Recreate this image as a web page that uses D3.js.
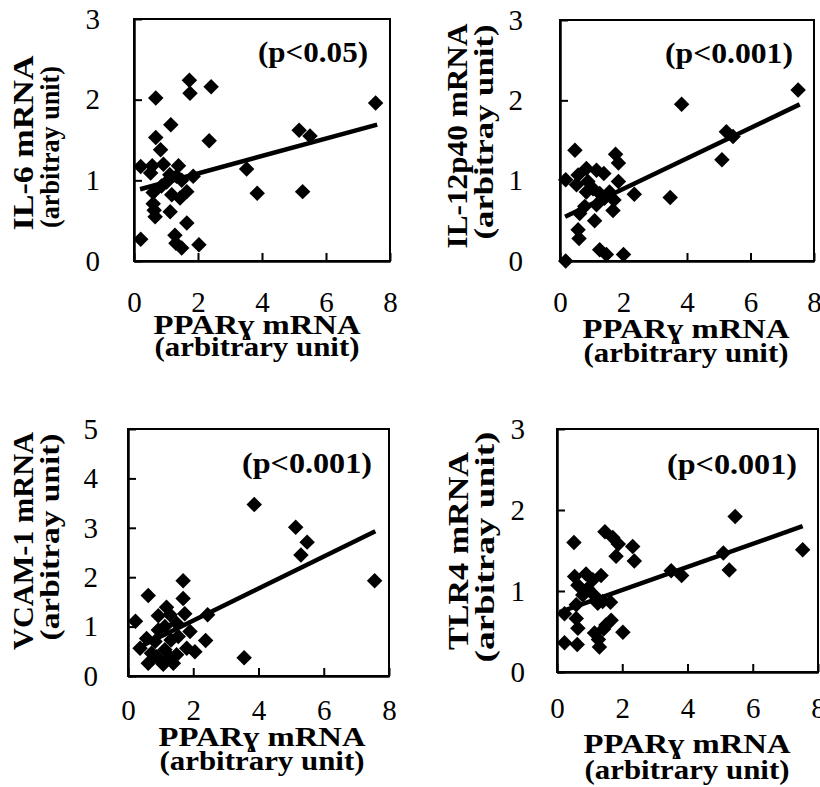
<!DOCTYPE html>
<html>
<head>
<meta charset="utf-8">
<script src="https://cdn.jsdelivr.net/npm/d3@7"></script>
<style>
body { margin: 0; background: #fff; }
svg { display: block; }
text { font-family: "Liberation Serif", "Times New Roman", serif; fill: #000; }
</style>
</head>
<body>
<svg id="chart" width="820" height="787"></svg>
<script>
// values: [PPARg, target mRNA]
var il6Points = [
    [1.73, 2.24], [1.75, 2.08], [2.41, 2.16], [0.68, 2.02], [7.55, 1.96],
    [1.15, 1.69], [0.68, 1.53], [5.16, 1.62], [5.5, 1.55], [2.35, 1.49],
    [0.83, 1.38], [0.21, 1.17], [0.57, 1.18], [0.92, 1.2], [0.52, 1.09],
    [1.39, 1.18], [3.52, 1.14], [1.12, 1.07], [1.02, 0.98], [1.33, 1.05],
    [1.49, 1.0], [1.85, 1.05], [0.86, 0.93], [1.65, 0.86], [1.18, 0.82],
    [1.44, 0.78], [0.6, 0.85], [3.85, 0.84], [5.27, 0.86], [0.6, 0.71],
    [0.63, 0.63], [0.66, 0.55], [1.13, 0.61], [1.65, 0.47], [0.21, 0.27],
    [1.28, 0.32], [1.31, 0.22], [1.49, 0.16], [2.03, 0.2]
];
var il12Points = [
    [7.5, 2.13], [3.83, 1.95], [5.24, 1.61], [5.45, 1.55], [5.1, 1.26],
    [0.47, 1.38], [1.75, 1.33], [1.84, 1.22], [0.18, 1.01], [0.57, 1.07],
    [0.83, 1.15], [1.15, 1.13], [1.38, 1.09], [1.84, 0.99], [0.52, 0.95],
    [0.88, 0.99], [1.04, 0.9], [0.83, 0.86], [1.25, 0.84], [1.56, 0.86],
    [2.34, 0.83], [3.47, 0.79], [1.7, 0.76], [1.4, 0.78], [1.15, 0.7],
    [0.78, 0.68], [1.67, 0.63], [0.62, 0.59], [1.09, 0.5], [0.57, 0.39],
    [0.6, 0.28], [1.25, 0.14], [1.46, 0.08], [2.0, 0.08], [0.18, 0.0]
];
var vcamPoints = [
    [3.87, 3.47], [5.14, 3.01], [5.49, 2.71], [5.3, 2.45], [7.56, 1.93],
    [1.69, 1.93], [0.62, 1.63], [1.69, 1.57], [0.23, 1.11], [1.18, 1.39],
    [0.93, 1.22], [1.29, 1.24], [1.74, 1.26], [2.44, 1.24], [1.13, 1.0],
    [1.49, 1.07], [1.9, 0.9], [0.93, 0.93], [0.57, 0.76], [0.83, 0.7],
    [1.32, 0.73], [1.54, 0.8], [2.38, 0.72], [1.8, 0.56], [2.05, 0.49],
    [0.37, 0.56], [0.72, 0.46], [1.13, 0.53], [1.49, 0.43], [0.62, 0.26],
    [1.08, 0.24], [1.39, 0.26], [3.56, 0.37], [0.88, 0.39], [1.29, 0.38]
];
var tlr4Points = [
    [5.46, 1.92], [7.53, 1.51], [5.1, 1.47], [5.28, 1.26], [3.5, 1.25],
    [3.82, 1.19], [0.52, 1.6], [1.47, 1.73], [1.71, 1.66], [1.88, 1.58],
    [2.32, 1.55], [1.81, 1.43], [2.37, 1.37], [0.54, 1.18], [0.89, 1.21],
    [1.35, 1.19], [1.1, 1.14], [0.64, 1.07], [0.94, 1.03], [0.79, 0.95],
    [1.13, 0.95], [1.25, 0.85], [1.64, 0.86], [1.4, 0.87], [0.59, 0.83],
    [0.23, 0.72], [0.59, 0.66], [1.66, 0.64], [1.5, 0.58], [0.64, 0.54],
    [2.02, 0.49], [1.15, 0.48], [1.43, 0.53], [0.23, 0.36], [0.62, 0.34],
    [1.3, 0.31], [1.27, 0.4]
];

// regression lines, end points
var il6Trend = [[0.19, 0.89], [7.6, 1.69]];
var il12Trend = [[0.16, 0.55], [7.55, 1.95]];
var vcamTrend = [[0.21, 0.54], [7.58, 2.93]];
var tlr4Trend = [[0.08, 0.74], [7.53, 1.8]];

var xTicks = [0, 2, 4, 6, 8];
var yTicks3 = [0, 1, 2, 3];
var yTicks5 = [0, 1, 2, 3, 4, 5];

var yTitles = ["IL-6  mRNA", "IL-12p40  mRNA", "VCAM-1  mRNA", "TLR4  mRNA"];
var yUnit = "(arbitray unit)";
var xTitle = "PPAR\u0263 mRNA";
var xUnit = "(arbitrary unit)";
var pLabels = ["(p<0.05)", "(p<0.001)", "(p<0.001)", "(p<0.001)"];

var svg = d3.select("#chart");
var serif = "'Liberation Serif', 'Times New Roman', Times, serif";

var panels = [
    {pts: il6Points, trend: il6Trend, yTicks: yTicks3, yTitle: yTitles[0], p: pLabels[0],
     left: 134, right: 390, top: 19, bottom: 261, yPad: 34, xPad: 30,
     pX: 368, pY: 62, pLen: 110,
     t1: {x: 33, y: 143, len: 175}, t2: {x: 59, y: 147, len: 162},
     xt: {x: 257, y1: 334, y2: 356}},
    {pts: il12Points, trend: il12Trend, yTicks: yTicks3, yTitle: yTitles[1], p: pLabels[1],
     left: 560, right: 814, top: 20, bottom: 261, yPad: 37, xPad: 30,
     pX: 793, pY: 63, pLen: 128,
     t1: {x: 467, y: 136, len: 225}, t2: {x: 493, y: 132, len: 215},
     xt: {x: 686, y1: 338, y2: 362}},
    {pts: vcamPoints, trend: vcamTrend, yTicks: yTicks5, yTitle: yTitles[2], p: pLabels[2],
     left: 128, right: 389, top: 429, bottom: 676, yPad: 30, xPad: 23,
     pX: 372, pY: 473, pLen: 130,
     t1: {x: 33, y: 541, len: 218}, t2: {x: 59, y: 537, len: 207},
     xt: {x: 262, y1: 746, y2: 770}},
    {pts: tlr4Points, trend: tlr4Trend, yTicks: yTicks3, yTitle: yTitles[3], p: pLabels[3],
     left: 557, right: 818, top: 429, bottom: 672, yPad: 32, xPad: 25,
     pX: 797, pY: 474, pLen: 130,
     t1: {x: 468, y: 551, len: 198}, t2: {x: 494, y: 547, len: 231},
     xt: {x: 687, y1: 753, y2: 779}}
];

panels.forEach(drawPanel);

function drawPanel(p) {
    var x = d3.scaleLinear().domain([0, 8]).range([p.left, p.right]);
    var y = d3.scaleLinear().domain([0, d3.max(p.yTicks)]).range([p.bottom, p.top]);

    var g = svg.append("g");

    // plot area border
    g.append("rect")
        .attr("x", p.left).attr("y", p.top)
        .attr("width", p.right - p.left).attr("height", p.bottom - p.top)
        .attr("fill", "none").attr("stroke", "#000").attr("stroke-width", 2);

    var xAxis = g.append("g")
        .attr("transform", "translate(0," + p.bottom + ")")
        .call(d3.axisBottom(x).tickValues(xTicks).tickFormat(d3.format("d"))
            .tickSizeInner(-8).tickSizeOuter(0).tickPadding(p.xPad));
    var yAxis = g.append("g")
        .attr("transform", "translate(" + p.left + ",0)")
        .call(d3.axisLeft(y).tickValues(p.yTicks).tickFormat(d3.format("d"))
            .tickSizeInner(-8).tickSizeOuter(0).tickPadding(p.yPad));

    [xAxis, yAxis].forEach(function (a) {
        a.attr("font-family", serif).attr("font-size", 29);
        a.select(".domain").attr("stroke", "#000").attr("stroke-width", 2.5);
        a.selectAll(".tick line").attr("stroke", "#000").attr("stroke-width", 2);
        a.selectAll(".tick text").attr("fill", "#000");
    });

    // diamonds
    g.selectAll("path.pt")
        .data(p.pts)
        .join("path")
        .attr("class", "pt")
        .attr("d", d3.symbol(d3.symbolSquare, 120))
        .attr("transform", function (d) { return "translate(" + x(d[0]) + "," + y(d[1]) + ") rotate(45)"; })
        .attr("fill", "#000");

    // trend line
    g.append("path")
        .datum(p.trend)
        .attr("d", d3.line().x(function (d) { return x(d[0]); }).y(function (d) { return y(d[1]); }))
        .attr("fill", "none").attr("stroke", "#000").attr("stroke-width", 4.5);

    // p value
    g.append("text")
        .attr("x", p.pX).attr("y", p.pY)
        .attr("text-anchor", "end")
        .attr("font-size", 30).attr("font-weight", "bold")
        .attr("textLength", p.pLen).attr("lengthAdjust", "spacingAndGlyphs")
        .text(p.p);

    // y title, two lines
    g.append("text")
        .attr("transform", "translate(" + p.t1.x + "," + p.t1.y + ") rotate(-90)")
        .attr("text-anchor", "middle")
        .attr("font-size", 29).attr("font-weight", "bold")
        .attr("textLength", p.t1.len).attr("lengthAdjust", "spacingAndGlyphs")
        .text(p.yTitle);
    g.append("text")
        .attr("transform", "translate(" + p.t2.x + "," + p.t2.y + ") rotate(-90)")
        .attr("text-anchor", "middle")
        .attr("font-size", 28).attr("font-weight", "bold")
        .attr("textLength", p.t2.len).attr("lengthAdjust", "spacingAndGlyphs")
        .text(yUnit);

    // x title, two lines
    g.append("text")
        .attr("x", p.xt.x).attr("y", p.xt.y1)
        .attr("text-anchor", "middle")
        .attr("font-size", 27).attr("font-weight", "bold")
        .attr("textLength", 207).attr("lengthAdjust", "spacingAndGlyphs")
        .text(xTitle);
    g.append("text")
        .attr("x", p.xt.x).attr("y", p.xt.y2)
        .attr("text-anchor", "middle")
        .attr("font-size", 27).attr("font-weight", "bold")
        .attr("textLength", 205).attr("lengthAdjust", "spacingAndGlyphs")
        .text(xUnit);
}
</script>
</body>
</html>
